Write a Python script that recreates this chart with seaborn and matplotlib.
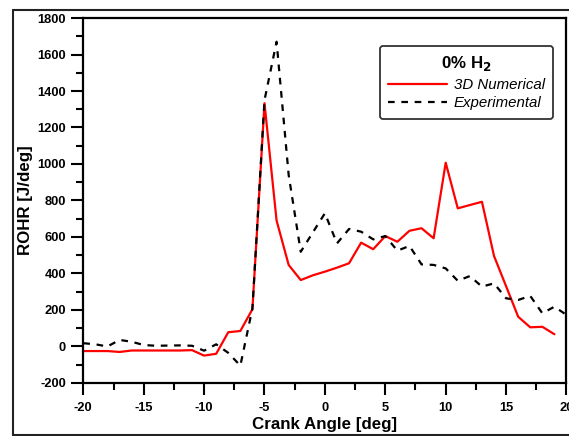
import matplotlib
matplotlib.use("Agg")
import matplotlib.pyplot as plt
import seaborn as sns
import numpy as np
import pandas as pd
from matplotlib.ticker import MultipleLocator
from matplotlib.lines import Line2D

# Data
crank_num = list(range(-20, 20))
rohr_num = [-25, -25, -25, -30, -22, -22, -22, -22, -22, -20,
            -50, -40, 78, 85, 204, 1333, 690, 447, 364, 390,
            410, 432, 456, 569, 533, 605, 574, 634, 648, 593,
            1007, 757, 775, 793, 496, 330, 163, 105, 108, 67]
crank_exp = list(range(-20, 21))
rohr_exp = [18, 12, 0, 36, 26, 8, 4, 5, 6, 4,
            -23, 12, -35, -105, 209, 1350, 1670, 940, 519, 625,
            730, 565, 644, 629, 587, 605, 525, 551, 450, 447,
            428, 360, 386, 328, 346, 264, 255, 277, 182, 218, 173]
series_names = ["3D Numerical", "Experimental"]
legend_title = "0% H$_\\mathbf{2}$"
xticks = [-20, -15, -10, -5, 0, 5, 10, 15, 20]
yticks = [-200, 0, 200, 400, 600, 800, 1000, 1200, 1400, 1600, 1800]

sns.set_style("ticks")
plt.rcParams['font.family'] = ['Liberation Sans', 'DejaVu Sans']
plt.rcParams['axes.unicode_minus'] = False
plt.rcParams['text.color'] = 'black'
plt.rcParams['axes.labelcolor'] = 'black'

df_num = pd.DataFrame({"x": crank_num, "y": rohr_num})
df_exp = pd.DataFrame({"x": crank_exp, "y": rohr_exp})

fig = plt.figure(figsize=(5.69, 4.36), dpi=100)
ax = fig.add_axes([0.1464, 0.1216, 0.8492, 0.8371])

sns.lineplot(data=df_num, x="x", y="y", ax=ax, color="#ff0000", linewidth=1.6,
             label=series_names[0])
sns.lineplot(data=df_exp, x="x", y="y", ax=ax, color="black", linewidth=1.6,
             label=series_names[1])
ax.lines[1].set_dashes([3, 3])

ax.set_xlim(-20, 20)
ax.set_ylim(-200, 1800)
ax.set_xticks(xticks)
ax.set_yticks(yticks)
ax.xaxis.set_minor_locator(MultipleLocator(2.5))
ax.yaxis.set_minor_locator(MultipleLocator(100))
ax.tick_params(which="major", direction="out", length=8.5, width=1.5, colors="black",
               labelcolor="black", labelsize=9.3)
ax.tick_params(axis="x", which="major", pad=5)
ax.tick_params(axis="y", which="major", pad=4)
ax.tick_params(which="minor", direction="out", length=5, width=1.5, colors="black")
for lab in ax.get_xticklabels() + ax.get_yticklabels():
    lab.set_fontweight("bold")
for s in ax.spines.values():
    s.set_linewidth(1.6)
    s.set_color("black")
    s.set_visible(True)

ax.set_xlabel("Crank Angle [deg]", fontsize=12.2, fontweight="bold", labelpad=2, color="black")
ax.set_ylabel("ROHR [J/deg]", fontsize=12.2, fontweight="bold", labelpad=3, color="black")

leg = ax.legend(title=legend_title, loc="upper right", bbox_to_anchor=(0.972, 0.923),
                frameon=True, fancybox=True, handlelength=3.9, handletextpad=0.45,
                borderpad=0.55, labelspacing=0.3, borderaxespad=0,
                prop={"style": "italic", "size": 10.8},
                title_fontproperties={"weight": "bold", "size": 12.2})
leg.get_frame().set_edgecolor("#333333")
leg.get_frame().set_linewidth(1.3)
leg.get_frame().set_alpha(1)

# outer figure frame
fx0 = 12.5 / 569
fy_top = 1 - 10.5 / 436
fy_bot = 1 - 434.5 / 436
fig.add_artist(Line2D([fx0, fx0], [fy_bot, fy_top], transform=fig.transFigure, color="#222222", lw=1.5))
fig.add_artist(Line2D([fx0, 1.0], [fy_top, fy_top], transform=fig.transFigure, color="#222222", lw=1.5))
fig.add_artist(Line2D([fx0, 1.0], [fy_bot, fy_bot], transform=fig.transFigure, color="#222222", lw=1.5))

fig.savefig("out.png", dpi=100)
